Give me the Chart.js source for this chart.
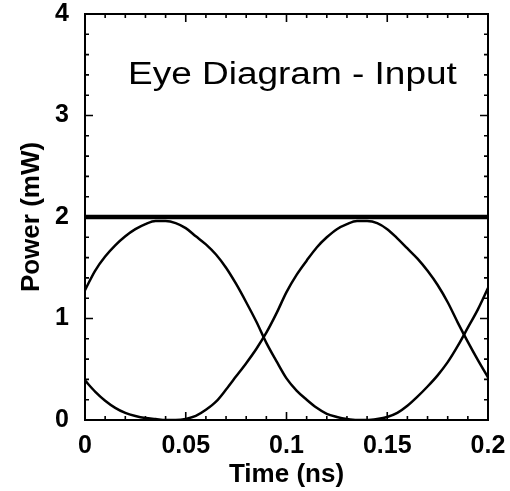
<!DOCTYPE html>
<html><head><meta charset="utf-8">
<script src="https://cdn.jsdelivr.net/npm/chart.js@4.4.1/dist/chart.umd.min.js"></script>
<style>html,body{margin:0;padding:0;background:#fff}#wrap{width:510px;height:491px}</style>
</head><body><div id="wrap"><canvas id="c" width="510" height="491"></canvas></div>
<script>
// ---- data ----
const time = [0,0.005,0.01,0.015,0.02,0.025,0.03,0.035,0.04,0.045,0.05,0.055,0.06,0.065,0.07,0.075,0.08,0.085,0.09,0.095,0.1,0.105,0.11,0.115,0.12,0.125,0.13,0.135,0.14,0.145,0.15,0.155,0.16,0.165,0.17,0.175,0.18,0.185,0.19,0.195,0.2];
const traceA = [1.28,1.47,1.61,1.72,1.81,1.88,1.93,1.96,1.96,1.94,1.89,1.81,1.73,1.63,1.50,1.34,1.16,0.97,0.76,0.58,0.41,0.29,0.20,0.12,0.06,0.03,0.01,0,0,0.01,0.03,0.07,0.14,0.23,0.33,0.44,0.57,0.73,0.91,1.09,1.30];
const traceB = [0.39,0.28,0.19,0.12,0.07,0.04,0.02,0.01,0,0,0.01,0.04,0.10,0.18,0.30,0.43,0.56,0.70,0.86,1.05,1.26,1.43,1.57,1.70,1.80,1.88,1.93,1.96,1.96,1.94,1.88,1.79,1.69,1.59,1.47,1.33,1.16,0.96,0.77,0.59,0.42];
const levelTime = [0,0.2];
const levelOne = [2,2];
const xTicks = [0,0.05,0.1,0.15,0.2];
const xTickLabels = ['0','0.05','0.1','0.15','0.2'];
const yTicks = [0,1,2,3,4];
const yTickLabels = ['0','1','2','3','4'];
const xMinorStep = 0.01;
const yMinorStep = 0.2;
const titleText = 'Eye Diagram - Input';
const xTitle = 'Time (ns)';
const yTitle = 'Power (mW)';

const pts = (xs, ys) => xs.map((v, i) => ({x: v, y: ys[i]}));
const FONT = '"Liberation Sans", Arial, Helvetica, sans-serif';

const framePlugin = {
  id: 'frame',
  afterDraw(chart) {
    const {ctx, chartArea: a, scales: {x, y}} = chart;
    ctx.save();
    ctx.strokeStyle = '#000';
    ctx.lineWidth = 2;
    ctx.strokeRect(a.left, a.top, a.right - a.left, a.bottom - a.top);
    ctx.lineWidth = 1.6;
    ctx.beginPath();
    const nx = Math.round((x.max - x.min) / xMinorStep);
    for (let i = 0; i <= nx; i++) {
      const v = x.min + i * xMinorStep;
      const major = xTicks.some(t => Math.abs(t - v) < 1e-9);
      const len = major ? 8 : 4;
      const px = x.getPixelForValue(v);
      ctx.moveTo(px, a.bottom); ctx.lineTo(px, a.bottom - len);
      ctx.moveTo(px, a.top); ctx.lineTo(px, a.top + len);
    }
    const ny = Math.round((y.max - y.min) / yMinorStep);
    for (let i = 0; i <= ny; i++) {
      const v = y.min + i * yMinorStep;
      const major = yTicks.some(t => Math.abs(t - v) < 1e-9);
      const len = major ? 8 : 4;
      const py = y.getPixelForValue(v);
      ctx.moveTo(a.left, py); ctx.lineTo(a.left + len, py);
      ctx.moveTo(a.right, py); ctx.lineTo(a.right - len, py);
    }
    ctx.stroke();
    // in-plot title
    ctx.fillStyle = '#000';
    ctx.font = '31px ' + FONT;
    ctx.textBaseline = 'alphabetic';
    const w = ctx.measureText(titleText).width;
    const target = (a.right - a.left) * 0.816;
    ctx.translate(a.left + 43, a.top + 70);
    ctx.scale(target / w, 1);
    ctx.fillText(titleText, 0, 0);
    ctx.restore();
  }
};

new Chart(document.getElementById('c'), {
  type: 'line',
  data: {
    datasets: [
      {data: pts(levelTime, levelOne), borderColor: '#000', borderWidth: 4.5, pointRadius: 0},
      {data: pts(time, traceA), borderColor: '#000', borderWidth: 2.5, pointRadius: 0, cubicInterpolationMode: 'monotone'},
      {data: pts(time, traceB), borderColor: '#000', borderWidth: 2.5, pointRadius: 0, cubicInterpolationMode: 'monotone'}
    ]
  },
  options: {
    responsive: false,
    animation: false,
    devicePixelRatio: 1,
    layout: {padding: 0},
    plugins: {legend: {display: false}, tooltip: {enabled: false}, title: {display: false}},
    scales: {
      x: {
        type: 'linear', min: 0, max: 0.2,
        afterBuildTicks: s => { s.ticks = xTicks.map(v => ({value: v})); },
        afterFit: s => { s.height = 71; s.paddingLeft = 0; s.paddingRight = 22; },
        grid: {display: false, drawTicks: false},
        border: {display: false},
        ticks: {color: '#000', font: {family: FONT, size: 25, weight: 'bold'}, padding: 11, maxRotation: 0,
                callback: (v) => xTickLabels[xTicks.findIndex(t => Math.abs(t - v) < 1e-9)]},
        title: {display: true, text: xTitle, color: '#000', font: {family: FONT, size: 26, weight: 'bold'}, padding: {top: 0, bottom: 1}}
      },
      y: {
        type: 'linear', min: 0, max: 4,
        afterBuildTicks: s => { s.ticks = yTicks.map(v => ({value: v})); },
        afterFit: s => { s.width = 85; s.paddingTop = 14; s.paddingBottom = 0; },
        grid: {display: false, drawTicks: false},
        border: {display: false},
        ticks: {color: '#000', font: {family: FONT, size: 25, weight: 'bold'}, padding: 16,
                callback: (v) => yTickLabels[yTicks.findIndex(t => Math.abs(t - v) < 1e-9)]},
        title: {display: true, text: yTitle, color: '#000', font: {family: FONT, size: 26, weight: 'bold'}, padding: {top: 16, bottom: 0}}
      }
    }
  },
  plugins: [framePlugin]
});
</script>
</body></html>
